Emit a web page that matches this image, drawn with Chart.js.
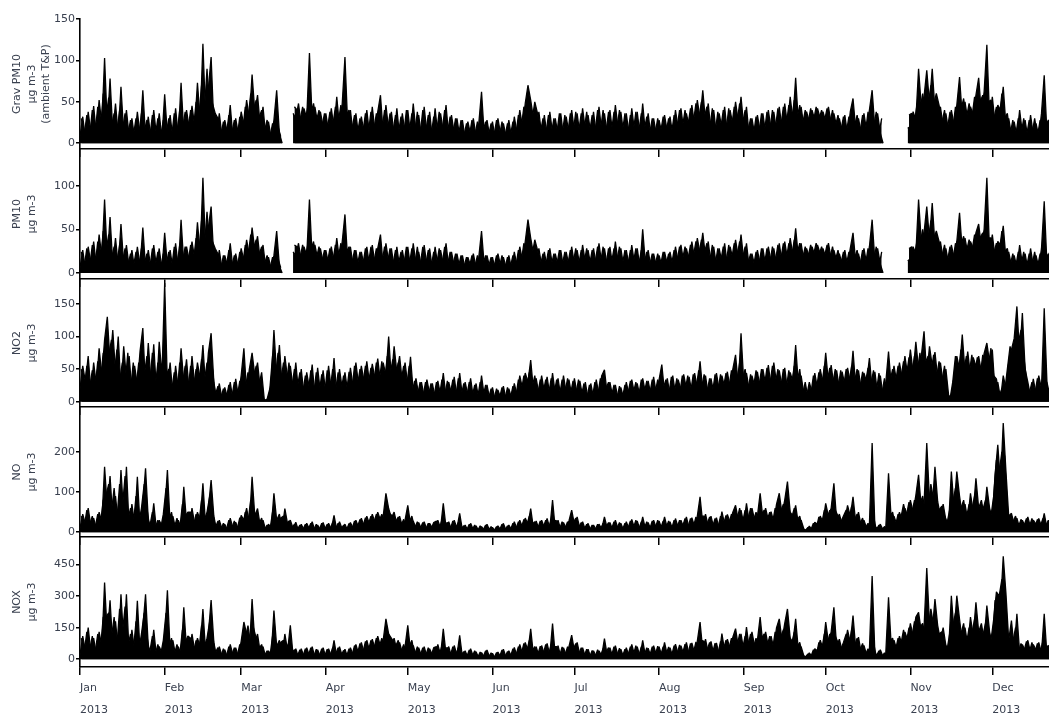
<!DOCTYPE html>
<html>
<head>
<meta charset="utf-8">
<script src="https://cdn.jsdelivr.net/npm/chart.js@4.4.0/dist/chart.umd.min.js"></script>
<style>
    html, body { margin: 0; padding: 0; background: #fff; overflow: hidden; width: 1049px; height: 720px; }
    canvas { position: absolute; left: 0; }
</style>
</head>
<body>
<canvas id="p1"></canvas>
<canvas id="p2"></canvas>
<canvas id="p3"></canvas>
<canvas id="p4"></canvas>
<canvas id="p5"></canvas>
<script>
// day-of-year where each month starts (2013)
const monthStarts = [0, 31, 59, 90, 120, 151, 181, 212, 243, 273, 304, 334];
const monthNames = ['Jan', 'Feb', 'Mar', 'Apr', 'May', 'Jun', 'Jul', 'Aug', 'Sep', 'Oct', 'Nov', 'Dec'];
const yearLabel = '2013';

// two readings per day (first half / second half of the day), ug m-3
const gravPm10Am = [
    8,32,6,38,12,45,10,52,22,103,
    20,78,14,48,10,68,12,40,8,30,
    6,38,10,64,8,32,5,40,8,36,
    6,59,10,34,5,42,8,73,12,40,
    18,45,20,73,28,120,30,66,104,22,
    10,36,8,28,12,46,6,30,10,38,
    22,52,30,83,38,58,20,44,8,26,
    6,28,64,12,0,null,null,null,36,30,
    48,22,42,30,109,28,44,24,38,20,
    36,14,42,18,56,20,48,104,22,40,
    10,36,8,32,12,40,10,44,14,38,
    58,12,46,16,38,10,42,8,36,12,
    40,10,48,14,34,8,44,12,38,6,
    42,10,36,14,46,8,34,12,30,8,
    28,6,26,10,30,8,24,62,10,28,
    8,26,6,30,10,24,8,28,6,32,
    12,40,20,48,70,52,30,18,38,10,
    34,8,38,12,30,10,36,8,32,12,
    40,14,36,10,42,16,34,12,38,10,
    44,14,36,10,40,12,46,18,38,12,
    36,10,42,14,38,10,48,12,36,8,
    30,10,28,12,34,14,32,10,40,18,
    42,16,36,20,46,22,52,30,64,26,
    48,14,40,10,36,18,44,12,40,22,
    50,26,56,20,44,8,30,10,34,14,
    36,12,40,16,38,14,44,18,48,22,
    56,28,79,24,44,20,38,26,40,28,
    42,30,38,26,44,24,36,20,30,14,
    34,10,38,54,16,30,12,36,14,40,
    64,18,36,12,0,null,null,null,null,null,
    null,null,null,18,20,38,28,90,44,56,
    88,48,90,40,30,44,20,36,14,40,
    22,46,80,32,50,28,44,34,58,79,
    36,62,119,30,56,24,46,40,68,20,
    30,10,26,8,40,12,28,6,34,10,
    24,8,36,82,12,30,8,26,10,32,
    12,28,8,24,10
];
const gravPm10Pm = [
    30,9,34,7,40,12,44,15,60,30,
    55,20,36,12,40,15,36,10,28,8,
    30,8,36,14,28,6,34,7,30,6,
    28,10,30,6,36,9,40,16,38,14,
    40,16,50,30,70,36,90,34,48,36,
    30,8,26,8,34,10,28,6,32,12,
    44,28,60,40,52,30,40,14,28,6,
    24,8,20,8,null,null,null,null,44,40,
    26,44,28,46,36,48,26,40,18,36,
    16,38,20,44,24,46,22,34,40,16,
    34,10,30,12,36,10,38,14,36,12,
    14,40,14,36,12,34,10,32,10,40,
    12,36,10,38,10,40,12,34,8,32,
    12,38,12,40,12,32,10,30,8,28,
    8,24,8,28,8,26,8,14,26,8,
    24,8,28,8,26,6,24,8,26,8,
    34,18,44,30,40,28,50,36,12,30,
    10,34,10,30,10,36,10,34,10,36,
    12,38,12,36,14,38,12,34,12,40,
    14,40,12,38,12,38,16,40,12,36,
    10,34,12,38,12,36,14,32,10,30,
    10,30,12,32,12,30,10,34,16,40,
    18,40,20,42,24,48,28,50,30,44,
    16,42,12,38,16,40,14,42,18,44,
    24,48,22,40,14,30,8,32,10,36,
    12,38,14,40,16,42,18,44,20,46,
    26,52,30,46,22,40,24,42,26,44,
    28,40,26,42,24,40,20,34,14,32,
    12,32,14,20,34,12,34,12,38,14,
    16,38,12,30,null,null,null,null,null,null,
    null,null,null,34,36,26,48,40,60,38,
    44,70,46,60,46,24,40,16,38,16,
    44,24,40,54,30,48,30,56,36,50,
    58,34,50,52,28,44,28,60,30,36,
    10,28,8,30,10,30,8,28,10,30,
    8,28,10,20,28,10,28,8,30,10,
    30,10,26,8,28
];

const pm10Am = [
    6,26,4,30,10,36,8,44,18,84,
    16,64,10,40,8,56,10,32,6,26,
    4,30,8,52,6,26,4,32,6,28,
    4,46,8,26,4,34,6,61,10,30,
    14,36,16,58,22,109,24,52,76,16,
    6,26,4,20,8,34,4,22,6,28,
    14,38,20,52,26,42,14,32,6,18,
    4,20,48,8,0,null,null,null,24,20,
    34,14,30,20,84,18,32,16,28,12,
    26,10,30,12,40,14,36,67,14,30,
    8,26,6,24,8,30,8,32,10,28,
    44,8,34,12,28,6,30,6,26,8,
    30,6,34,10,24,6,32,8,28,4,
    30,8,26,10,34,6,24,8,22,6,
    20,4,18,8,22,6,18,48,8,20,
    6,18,4,22,8,18,6,20,4,24,
    8,30,14,36,61,40,22,12,28,8,
    24,6,28,8,22,8,26,6,24,8,
    30,10,26,8,32,12,26,8,28,8,
    34,10,28,8,30,8,36,12,28,8,
    26,8,32,10,28,6,50,10,26,6,
    22,8,20,8,24,10,24,8,30,12,
    32,12,28,14,36,16,40,22,46,18,
    36,10,30,8,28,12,34,8,30,16,
    38,18,44,14,34,6,22,8,26,10,
    28,8,30,12,28,10,34,12,36,16,
    40,20,51,18,34,14,28,18,30,20,
    32,22,28,18,34,16,26,14,22,10,
    26,8,28,46,12,22,8,28,10,30,
    61,14,28,10,0,null,null,null,null,null,
    null,null,null,14,16,30,22,84,36,46,
    76,38,80,32,24,36,16,28,10,32,
    18,36,69,26,40,22,36,28,46,56,
    30,50,109,24,44,18,36,32,54,16,
    24,8,20,6,32,10,22,4,28,8,
    20,6,28,82,10,24,6,20,8,26,
    10,22,6,20,8
];
const pm10Pm = [
    24,6,28,6,32,8,36,12,48,24,
    44,16,30,10,32,12,28,8,22,6,
    24,6,28,10,22,4,28,6,24,4,
    22,8,24,4,30,6,32,12,30,10,
    32,12,40,24,60,28,70,26,36,28,
    22,4,20,6,26,6,20,4,24,8,
    32,18,44,28,38,20,30,10,20,4,
    18,6,16,6,null,null,null,null,32,30,
    16,32,18,34,26,36,16,30,12,26,
    10,28,12,32,16,34,14,24,30,10,
    26,8,24,8,28,8,30,10,28,8,
    10,30,10,28,8,26,8,24,8,30,
    8,28,8,30,8,30,8,26,6,24,
    8,28,8,30,8,24,8,22,6,20,
    6,18,6,20,6,20,6,10,20,6,
    18,6,20,6,20,4,18,6,20,6,
    26,12,34,22,30,20,38,26,8,22,
    8,26,8,22,8,26,8,24,8,26,
    10,28,8,26,10,28,8,26,10,30,
    10,30,8,28,10,28,12,30,8,26,
    8,26,10,28,8,26,10,24,8,22,
    8,22,8,24,8,22,8,26,12,30,
    14,30,14,32,18,36,20,38,22,34,
    12,32,8,28,12,30,10,32,14,34,
    18,36,16,30,10,22,6,24,8,28,
    8,28,10,30,12,32,14,34,14,34,
    18,38,22,34,16,30,18,32,20,34,
    20,30,18,32,16,30,14,26,10,24,
    8,24,10,16,26,8,26,8,28,10,
    12,30,8,24,null,null,null,null,null,null,
    null,null,null,28,30,20,38,32,50,30,
    36,60,38,48,36,18,32,12,30,12,
    34,18,32,42,24,38,24,44,28,40,
    46,26,40,40,22,34,22,48,24,28,
    8,22,6,24,8,24,6,22,8,24,
    6,22,8,16,22,8,22,6,24,8,
    24,8,20,6,22
];

const no2Am = [
    20,55,30,70,15,60,25,82,40,95,
    130,60,110,45,100,20,85,35,70,15,
    55,25,78,113,20,90,30,88,15,92,
    40,182,25,60,10,55,20,82,30,65,
    15,70,25,60,35,87,20,75,105,30,
    5,28,4,22,6,30,2,35,8,40,
    82,15,50,75,40,60,20,5,2,4,
    30,110,40,87,25,70,35,55,20,60,
    15,50,10,45,20,57,8,52,15,48,
    12,55,18,67,10,50,20,45,15,52,
    22,60,25,55,30,62,28,58,35,66,
    30,60,40,100,35,85,45,70,30,60,
    25,69,15,36,10,30,8,34,12,28,
    6,32,10,44,8,30,12,38,6,44,
    8,30,10,36,6,28,4,40,8,26,
    4,22,2,18,6,24,3,20,5,28,
    10,40,20,44,30,64,18,36,12,40,
    15,38,10,44,12,36,8,40,14,34,
    10,36,12,32,8,30,4,28,6,34,
    10,40,49,12,30,8,26,4,22,6,
    30,10,34,12,28,8,36,14,32,10,
    38,12,34,57,14,36,10,40,12,34,
    18,42,20,38,14,44,22,62,16,40,
    10,36,14,44,18,40,22,46,20,50,
    72,25,105,30,44,18,40,24,46,20,
    50,26,56,22,60,28,48,22,52,18,
    45,30,87,26,40,12,8,30,14,44,
    20,50,28,75,30,56,24,48,20,46,
    26,52,30,78,22,48,18,44,30,67,
    20,46,12,40,8,30,77,25,55,30,
    60,36,70,40,80,45,92,50,70,108,
    40,85,55,76,35,60,28,50,10,4,
    40,70,50,103,45,77,40,68,55,70,
    45,74,90,60,80,15,30,5,40,20,
    60,80,97,146,70,136,50,30,8,35,
    12,40,20,143,30,10,38,14,34,22,
    80,40,20,60,30
];
const no2Pm = [
    50,18,55,20,48,20,62,30,75,50,
    70,95,40,80,30,60,25,75,18,60,
    20,60,30,40,70,25,75,20,60,30,
    70,40,50,15,45,10,60,25,55,15,
    55,20,50,25,65,30,60,40,50,10,
    24,5,20,4,26,5,30,6,32,10,
    20,45,18,35,55,25,45,2,4,20,
    70,35,75,30,60,25,60,20,50,20,
    45,12,40,12,48,10,45,12,42,10,
    48,14,50,15,45,14,40,12,46,15,
    55,22,50,26,55,25,52,28,60,30,
    62,30,70,40,65,35,60,30,55,20,
    55,12,32,8,30,6,30,8,28,6,
    30,6,34,8,32,10,34,6,36,8,
    28,6,30,6,26,4,30,6,26,4,
    20,3,20,4,22,3,22,4,24,6,
    34,14,40,20,45,22,40,10,34,12,
    34,10,36,10,34,8,34,12,36,10,
    32,10,34,8,28,4,26,4,30,8,
    36,12,20,30,8,26,4,24,4,26,
    10,32,12,30,8,34,12,32,10,34,
    12,34,12,20,34,10,38,12,36,10,
    40,16,40,12,42,18,48,20,42,14,
    36,12,42,16,42,20,44,20,48,24,
    30,60,35,50,16,42,20,48,22,50,
    22,52,24,55,26,50,20,50,18,48,
    26,55,30,50,10,30,6,10,40,16,
    45,22,55,30,52,26,50,20,48,22,
    50,28,55,30,50,20,46,28,52,25,
    48,14,44,10,36,6,30,50,28,55,
    35,62,38,68,40,70,45,75,40,60,
    70,40,72,35,62,30,55,15,4,30,
    70,40,80,45,70,42,72,40,68,38,
    72,50,55,82,40,35,8,20,15,50,
    85,60,80,90,110,70,35,12,30,10,
    36,14,38,40,12,32,12,36,10,40,
    35,55,45,25,50
];

const noAm = [
    10,45,20,60,15,35,8,50,25,163,
    60,140,30,90,20,155,40,163,10,70,
    20,138,15,70,159,30,10,72,5,30,
    15,50,155,20,40,8,30,10,113,25,
    10,60,20,50,30,122,15,60,130,40,
    5,30,8,20,4,35,10,25,6,42,
    30,60,20,138,40,59,15,30,5,20,
    10,97,30,45,8,59,20,30,10,25,
    4,20,6,22,8,26,4,18,6,24,
    5,22,8,42,6,26,8,20,4,24,
    10,30,12,35,15,40,20,45,25,50,
    30,40,97,59,35,50,20,40,15,30,
    67,20,28,10,24,8,26,6,22,10,
    8,30,10,72,12,26,6,30,10,47,
    5,18,4,22,6,16,3,14,5,20,
    4,12,2,16,5,22,4,18,6,26,
    8,30,12,35,20,59,10,28,8,30,
    12,34,10,80,8,30,6,24,10,28,
    55,20,38,10,26,6,22,4,18,6,
    20,8,38,10,24,6,30,8,22,5,
    26,8,32,10,28,6,38,8,24,6,
    30,10,28,8,38,10,26,6,34,12,
    30,12,38,10,36,14,40,88,20,45,
    15,40,12,36,10,51,20,44,25,50,
    67,30,55,20,72,25,60,30,40,97,
    35,60,30,51,25,70,97,45,80,126,
    50,40,67,20,30,8,4,15,6,25,
    20,40,25,72,40,60,122,30,45,20,
    30,67,40,88,25,50,15,30,10,20,
    222,15,8,20,6,12,147,30,40,20,
    50,30,60,40,80,50,92,143,60,70,
    222,80,60,163,76,40,70,30,20,151,
    60,151,90,40,70,30,97,50,134,60,
    80,40,113,60,30,143,218,120,272,150,
    40,47,20,35,10,30,15,38,12,30,
    20,34,14,47,10,30,18,40,20,36,
    25,40,18,30,20
];
const noPm = [
    40,12,55,18,40,10,45,20,80,90,
    120,50,110,30,120,60,140,30,60,15,
    90,20,60,120,60,12,50,10,30,8,
    45,110,30,50,10,35,8,70,40,50,
    50,15,45,20,80,30,50,90,60,10,
    28,6,22,5,30,8,28,6,36,10,
    50,25,80,50,45,20,35,6,18,4,
    50,40,20,35,40,20,28,8,20,6,
    18,5,20,6,22,5,20,5,22,6,
    20,6,24,8,22,6,18,4,22,6,
    28,12,32,14,36,18,40,22,45,28,
    45,25,60,45,40,25,38,16,32,10,
    25,40,10,26,8,24,6,22,8,24,
    28,8,30,20,24,6,28,8,24,8,
    16,4,20,5,18,3,16,4,18,4,
    14,3,14,4,20,4,16,5,22,6,
    26,10,32,16,40,20,26,8,28,10,
    30,8,32,30,28,6,26,8,26,8,
    22,35,10,24,6,20,4,18,4,20,
    6,22,12,24,6,26,8,24,5,22,
    8,28,8,30,6,26,8,26,6,28,
    8,30,8,28,10,28,6,30,10,30,
    12,34,10,34,12,38,16,40,40,18,
    38,12,34,10,40,18,42,20,45,22,
    30,60,22,55,30,60,28,50,20,45,
    55,28,50,22,60,35,50,70,50,60,
    35,60,30,40,10,4,12,5,22,8,
    38,20,55,35,55,35,55,40,25,40,
    55,30,65,30,45,20,35,10,22,8,
    40,6,18,5,14,8,40,50,15,45,
    35,70,40,75,45,80,50,70,90,50,
    60,120,80,70,55,65,40,25,60,70,
    110,70,60,80,35,70,55,90,70,45,
    55,80,70,40,90,180,150,200,190,60,
    20,25,40,12,32,14,34,12,34,10,
    32,12,34,15,30,12,36,18,38,14,
    38,16,36,14,36
];

const noxAm = [
    20,110,40,150,30,100,20,130,60,364,
    110,280,60,180,40,309,80,309,20,140,
    40,278,30,150,309,60,20,140,10,60,
    30,100,328,40,90,20,60,20,247,50,
    20,120,40,100,60,239,30,120,281,80,
    10,60,15,45,8,70,20,55,12,85,
    177,120,40,286,80,120,30,60,10,40,
    20,231,60,90,15,120,40,161,20,50,
    8,50,12,55,16,60,8,45,12,55,
    10,50,16,90,12,60,16,48,8,55,
    20,70,25,80,30,90,40,95,50,110,
    60,90,192,120,70,100,40,80,30,60,
    161,40,65,20,55,15,60,12,50,20,
    15,70,20,145,25,60,12,65,20,114,
    10,40,8,50,12,36,6,32,10,44,
    8,28,4,34,10,48,8,40,12,56,
    16,70,25,80,40,145,20,60,16,65,
    24,75,20,169,16,65,12,55,20,60,
    114,40,80,20,55,12,48,8,40,12,
    40,16,98,20,55,12,64,16,48,10,
    55,16,70,20,60,12,90,16,52,12,
    64,20,60,16,80,20,55,12,72,24,
    64,24,80,20,78,28,86,177,40,95,
    30,85,24,78,20,122,40,95,50,105,
    145,60,120,40,153,50,130,60,90,200,
    70,130,60,110,50,150,192,90,170,239,
    100,80,192,40,60,16,8,30,12,50,
    40,90,50,177,80,130,247,60,95,40,
    60,140,80,208,50,105,30,65,20,45,
    395,30,16,45,12,30,294,60,90,45,
    110,65,130,90,170,110,200,223,130,150,
    434,170,130,286,160,90,150,65,40,302,
    130,302,190,80,150,65,200,110,270,130,
    170,90,255,130,60,280,270,250,489,310,
    90,184,50,216,30,70,40,90,30,70,
    45,80,30,216,20,70,40,90,45,80,
    55,90,40,70,45
];
const noxPm = [
    100,30,130,40,110,30,120,50,200,200,
    220,100,200,60,240,120,250,60,120,30,
    180,40,120,220,110,30,110,20,70,20,
    90,220,60,100,20,70,20,140,80,110,
    100,30,90,40,160,60,100,180,120,30,
    55,12,50,10,60,16,55,12,70,20,
    100,160,70,150,100,50,70,15,40,10,
    110,90,40,80,90,50,80,30,45,12,
    45,10,50,12,55,10,48,10,50,12,
    48,12,55,20,55,14,42,10,50,14,
    65,22,75,28,85,35,90,45,100,55,
    100,60,130,110,90,60,90,35,70,25,
    60,90,20,60,16,55,14,55,16,55,
    60,16,65,50,55,14,60,16,55,20,
    36,8,44,10,40,6,34,8,40,8,
    30,5,32,8,44,8,36,10,50,14,
    60,22,75,35,90,40,60,18,62,20,
    70,18,70,60,60,12,58,16,60,16,
    45,75,20,55,12,48,8,42,8,45,
    12,50,30,55,12,60,14,52,10,48,
    14,60,16,65,12,60,16,55,12,60,
    16,62,14,60,20,58,12,65,20,68,
    22,72,20,75,26,82,30,90,85,40,
    80,26,76,22,85,45,90,45,100,50,
    60,120,45,110,60,120,55,100,40,100,
    120,60,110,45,130,70,100,140,90,120,
    70,130,60,80,20,10,25,10,45,14,
    80,40,120,70,120,70,110,80,45,80,
    120,60,140,60,100,40,75,20,50,16,
    80,14,40,10,30,16,90,100,40,100,
    70,140,80,150,100,180,110,150,170,110,
    150,240,160,150,120,130,80,50,130,150,
    220,150,120,170,70,150,120,190,150,100,
    110,170,150,90,190,320,300,380,350,120,
    60,80,150,30,75,35,85,30,80,25,
    75,30,85,50,65,25,85,40,90,35,
    85,40,80,35,80
];

// y tick values per panel
const gravTicks = [0, 50, 100, 150];
const pm10Ticks = [0, 50, 100];
const no2Ticks = [0, 50, 100, 150];
const noTicks = [0, 100, 200];
const noxTicks = [0, 150, 300, 450];

const unitLabel = 'µg m-3';

// layout: chart area top/bottom on the page, y range of each strip
const panels = [
    { id: 'p1', am: gravPm10Am, pm: gravPm10Pm, ticks: gravTicks, title: ['Grav PM10', unitLabel, '(ambient T&P)'], top: 19, bottom: 149, min: -7, max: 150 },
    { id: 'p2', am: pm10Am, pm: pm10Pm, ticks: pm10Ticks, title: ['PM10', unitLabel], top: 149, bottom: 279, min: -7, max: 142 },
    { id: 'p3', am: no2Am, pm: no2Pm, ticks: no2Ticks, title: ['NO2', unitLabel], top: 279, bottom: 407, min: -8, max: 188 },
    { id: 'p4', am: noAm, pm: noPm, ticks: noTicks, title: ['NO', unitLabel], top: 407, bottom: 537, min: -12, max: 312 },
    { id: 'p5', am: noxAm, pm: noxPm, ticks: noxTicks, title: ['NOX', unitLabel], top: 537, bottom: 669, min: -37, max: 581 }
];

const TEXT_COLOR = '#3a4150';
const FONT_FAMILY = '"DejaVu Sans", Arial, sans-serif';
const AXIS_W = 80;          // y-axis box width, chart area starts at x=80
const CANVAS_W = 1077;      // chart area runs to end of year, page clips at 1049
const PAD_TOP = 10;
const X_TICK_LEN = 8;
const LABEL_LINE_H = 22;
const LABEL_PAD = 2;

function trace(points) {
    return {
        data: points,
        borderColor: '#000',
        backgroundColor: '#000',
        borderWidth: 1.3,
        borderJoinStyle: 'bevel',
        borderCapStyle: 'butt',
        pointRadius: 0,
        tension: 0,
        spanGaps: false,
        fill: 'origin'
    };
}

panels.forEach((p, idx) => {
    const isLast = idx === panels.length - 1;
    const canvas = document.getElementById(p.id);
    const xAxisH = X_TICK_LEN + (isLast ? LABEL_PAD + LABEL_LINE_H * 2 : 0);
    const h = PAD_TOP + (p.bottom - p.top) + xAxisH;
    canvas.width = CANVAS_W;
    canvas.height = h;
    canvas.style.width = CANVAS_W + 'px';
    canvas.style.height = h + 'px';
    canvas.style.top = (p.top - PAD_TOP) + 'px';

    // the two daily readings are drawn as two traces, half a day apart
    const amPoints = p.am.map((v, i) => ({ x: i, y: v }));
    const pmPoints = p.pm.map((v, i) => ({ x: i + 0.5, y: v }));

    new Chart(canvas.getContext('2d'), {
        type: 'line',
        data: { datasets: [trace(amPoints), trace(pmPoints)] },
        options: {
            responsive: false,
            animation: false,
            devicePixelRatio: 1,
            layout: { padding: { top: PAD_TOP, left: 0, right: 0, bottom: 0 } },
            plugins: { legend: { display: false }, tooltip: { enabled: false }, filler: { propagate: false } },
            scales: {
                x: {
                    type: 'linear',
                    min: 0,
                    max: 365,
                    afterBuildTicks: scale => { scale.ticks = monthStarts.map(v => ({ value: v })); },
                    grid: { display: true, drawOnChartArea: false, drawTicks: true, tickLength: X_TICK_LEN, color: '#000', lineWidth: 1.5 },
                    border: { display: true, color: '#000', width: 1.6 },
                    ticks: {
                        display: isLast,
                        autoSkip: false,
                        maxRotation: 0,
                        align: 'start',
                        padding: LABEL_PAD,
                        color: TEXT_COLOR,
                        font: { family: FONT_FAMILY, size: 11, lineHeight: LABEL_LINE_H / 11 },
                        callback: (value, i) => [monthNames[i], yearLabel]
                    }
                },
                y: {
                    min: p.min,
                    max: p.max,
                    afterBuildTicks: scale => { scale.ticks = p.ticks.map(v => ({ value: v })); },
                    afterFit: scale => { scale.width = AXIS_W; },
                    grid: { display: true, drawOnChartArea: false, drawTicks: true, tickLength: 4, color: '#000', lineWidth: 1.5 },
                    border: { display: true, color: '#000', width: 1.6 },
                    ticks: {
                        padding: 1,
                        color: TEXT_COLOR,
                        font: { family: FONT_FAMILY, size: 11 }
                    },
                    title: {
                        display: true,
                        text: p.title,
                        color: TEXT_COLOR,
                        padding: { top: 10, bottom: 0 },
                        font: { family: FONT_FAMILY, size: 11, lineHeight: 1.32 }
                    }
                }
            }
        }
    });
});
</script>
</body>
</html>
